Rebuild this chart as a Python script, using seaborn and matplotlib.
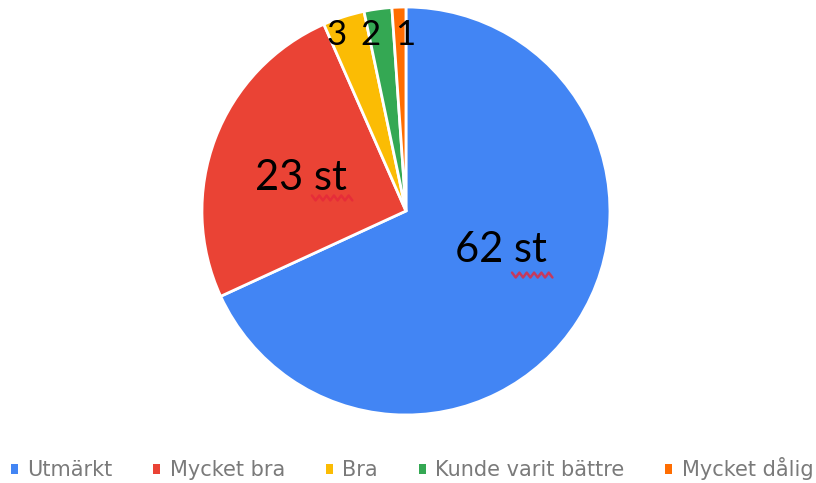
import matplotlib
matplotlib.use("Agg")
import numpy as np
import matplotlib.pyplot as plt
import seaborn as sns
from matplotlib.patches import Patch

# Daten
kategorien = ["Utmärkt", "Mycket bra", "Bra", "Kunde varit bättre", "Mycket dålig"]
antal = [62, 23, 3, 2, 1]
etiketter = ["62 st", "23 st", "3", "2", "1"]
farben = ["#4285F4", "#EA4335", "#FBBC04", "#34A853", "#FF6D01"]

sns.set_theme(style="white")
plt.rcParams["font.family"] = ["DejaVu Sans"]

fig = plt.figure(figsize=(8.16, 4.83), dpi=100)
ax = fig.add_axes([0.2475, 0.1408, 0.5, 0.8447])

wedges, _ = ax.pie(
    antal,
    colors=farben,
    startangle=90,
    counterclock=False,
    radius=1,
    wedgeprops={"edgecolor": "white", "linewidth": 2},
)
ax.set_xlim(-1, 1)
ax.set_ylim(-1, 1)
ax.set_aspect("equal")
ax.axis("off")

# Beschriftungen in den Segmenten
label_pos = [(0.466, -0.19), (-0.515, 0.162), (-0.338, 0.863), (-0.172, 0.863), (-0.005, 0.863)]
label_size = [30, 30, 25, 25, 25]
for txt, (x, y), fs in zip(etiketter, label_pos, label_size):
    ax.text(x, y, txt, ha="center", va="center", fontsize=fs,
            family=["Lato", "DejaVu Sans"], color="black", zorder=5)

# Rechtschreib-Wellenlinie unter "st"
def welle(x0, x1, y, amp=0.012, schritt=0.018):
    xs = np.arange(x0, x1 + 1e-9, schritt)
    ys = y + amp * np.where(np.arange(len(xs)) % 2 == 0, 1, -1)
    ax.plot(xs, ys, color="#E5283A", lw=1.8, alpha=0.8, zorder=6)

welle(0.52, 0.72, -0.314)
welle(-0.461, -0.25, 0.064)

# Legende
handles = [Patch(facecolor=c, edgecolor="none") for c in farben]
fig.legend(
    handles, kategorien,
    loc="center", bbox_to_anchor=(0.505, 0.029),
    ncol=5, frameon=False, fontsize=15,
    handlelength=0.35, handleheight=0.35, handletextpad=0.45,
    columnspacing=1.95, labelcolor="#7a7a7a",
)

fig.savefig("out.png", dpi=100)
